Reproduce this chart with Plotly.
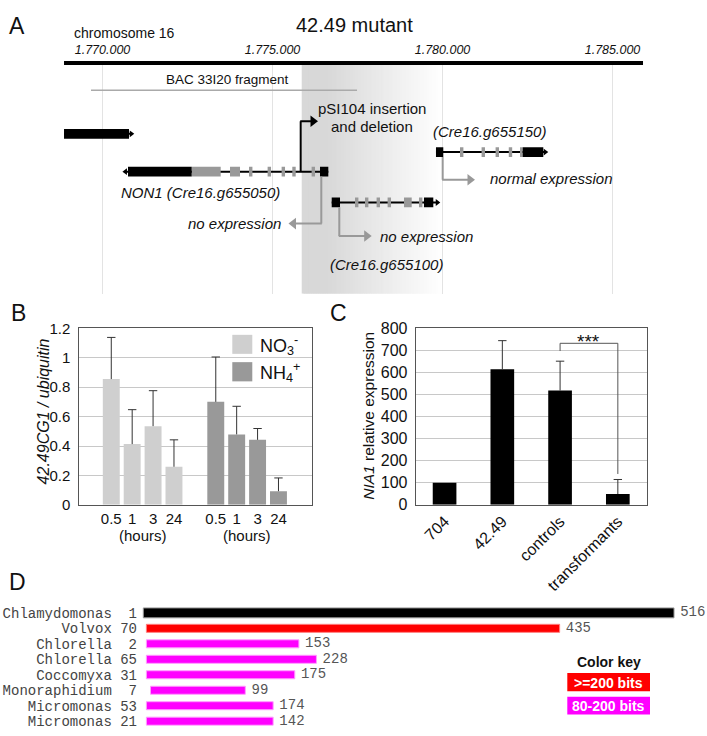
import plotly.graph_objects as go

W, H = 707, 736
FONT = "Arial, Liberation Sans, Helvetica, sans-serif"
MONO = "Courier New, Liberation Mono, monospace"

# ------------------------------------------------------------------ data
# Panel A : genomic map of chromosome 16 (bp)
CHROM_TICKS = [1770000, 1775000, 1780000, 1785000]
CHROM_TICK_LABELS = ["1.770.000", "1.775.000", "1.780.000", "1.785.000"]
WINDOW = [1768868, 1785897]
BAC_FRAGMENT = [1769662, 1777485]
DELETION_REGION = [1775859, 1780014]
INSERTION_SITE = 1775829
INSERTION_ARROW_END = 1776338

GENE_LEFT_BLACK = [(1768868, 1770779)]
GENE_LEFT_TIP = 1770926

NON1_BLACK = [(1770750, 1772623), (1776397, 1776641)]
NON1_GRAY = [(1772623, 1773476), (1773750, 1774044)]
NON1_THIN = [1774359, 1774906, 1775318, 1775632, 1776200]
NON1_TIP = 1770594

G100_BLACK = [(1776741, 1776985), (1779455, 1779729)]
G100_GRAY = [(1778867, 1779094)]
G100_THIN = [1777476, 1777770, 1778111, 1778435, 1779358]
G100_TIP = 1779926

G150_BLACK = [(1779808, 1780023), (1782358, 1782964)]
G150_GRAY = [(1782279, 1782358)]
G150_THIN = [1780564, 1781199, 1781611, 1781999]
G150_TIP = 1783102

# expression arrows: (stem position, arrow head position)
EXPR_NON1 = (1776435, 1775470)
EXPR_G100 = (1776964, 1777917)
EXPR_G150 = (1780005, 1780955)

# Panel B
HOURS = ["0.5", "1", "3", "24"]
NO3_MEAN = [0.855, 0.413, 0.535, 0.259]
NO3_ERR = [0.283, 0.234, 0.241, 0.183]
NH4_MEAN = [0.700, 0.479, 0.442, 0.093]
NH4_ERR = [0.305, 0.191, 0.077, 0.090]

# Panel C
STRAINS = ["704", "42.49", "controls", "transformants"]
NIA1_MEAN = [100, 614, 518, 49]
NIA1_ERR = [0, 130, 133, 66]

# Panel D
SPECIES = ["Chlamydomonas", "Volvox", "Chlorella", "Chlorella",
           "Coccomyxa", "Monoraphidium", "Micromonas", "Micromonas"]
SUBJ_START = [1, 70, 2, 65, 31, 7, 53, 21]
SUBJ_END = [516, 435, 153, 228, 175, 99, 174, 142]
QUERY_START = [1, 4, 4, 4, 4, 8, 4, 4]
QUERY_END = [516, 405, 152, 169, 148, 100, 127, 127]
SCORE_CLASS = ["query", ">=200", "80-200", "80-200", "80-200", "80-200", "80-200", "80-200"]
CLASS_COLOR = {"query": "#000000", ">=200": "#ff0000", "80-200": "#ff00ff"}


# ------------------------------------------------------------------ helpers
def px(x):
    return x / W


def py(y):
    return 1 - y / H


fig = go.Figure()
shapes = []
ann = []


def text(x, y, s, size=15, xanchor="center", color="#111", angle=0, family=FONT):
    ann.append(dict(x=px(x), y=py(y), xref="paper", yref="paper", text=s,
                    showarrow=False, xanchor=xanchor, yanchor="middle",
                    textangle=angle, font=dict(size=size, color=color, family=family)))


# ------------------------------------------------------------------ panel A
ROW = dict(ruler=55.3, bac=83.3, left=128.0, non1=166.7, g150=146.7, g100=198.3)
BOX_H = 10
THIN_W = 100
TRACK_TOP, TRACK_BOTTOM = 53.3, 292
BP_PER_PX = 29.41

# deletion shading with gradient (left-to-right strips, each overlapping the next)
n = 80
s0, s1 = DELETION_REGION
step = (s1 - s0) / n
for i in range(n):
    a = s0 + step * i
    t = (i + 0.5) / n
    k = 1.0 if t < 0.18 else max(0.0, 1 - (t - 0.18) / 0.82)
    g = round(255 - (255 - 216) * k)
    shapes.append(dict(type="rect", xref="x", yref="y", x0=a, x1=a + 2 * step, y0=57.3,
                       y1=TRACK_BOTTOM, fillcolor=f"rgb({g},{g},{g})", line=dict(width=0),
                       layer="below"))

# ruler and BAC fragment
shapes.append(dict(type="line", xref="x", yref="y", x0=WINDOW[0], x1=WINDOW[1],
                   y0=ROW["ruler"], y1=ROW["ruler"], line=dict(color="#000", width=4)))
shapes.append(dict(type="line", xref="x", yref="y", x0=BAC_FRAGMENT[0], x1=BAC_FRAGMENT[1],
                   y0=ROW["bac"], y1=ROW["bac"], line=dict(color="#aaaaaa", width=1.5)))

tip_x, tip_y, tip_sym = [], [], []
head_x, head_y, head_sym, head_col = [], [], [], []


def add_gene(row, black, gray, thin, tip, forward):
    lo = min(b[0] for b in black)
    hi = max(b[1] for b in black)
    if forward:
        lo2, hi2 = lo, tip - 60
    else:
        lo2, hi2 = tip + 60, hi
    shapes.append(dict(type="line", xref="x", yref="y", x0=lo2, x1=hi2, y0=row, y1=row,
                       line=dict(color="#000", width=2)))
    for a, b in gray:
        shapes.append(dict(type="rect", xref="x", yref="y", x0=a, x1=b, y0=row - BOX_H / 2,
                           y1=row + BOX_H / 2, fillcolor="#999999", line=dict(width=0)))
    for c in thin:
        shapes.append(dict(type="rect", xref="x", yref="y", x0=c - THIN_W / 2, x1=c + THIN_W / 2,
                           y0=row - BOX_H / 2, y1=row + BOX_H / 2, fillcolor="#999999",
                           line=dict(width=0)))
    for a, b in black:
        shapes.append(dict(type="rect", xref="x", yref="y", x0=a, x1=b, y0=row - BOX_H / 2,
                           y1=row + BOX_H / 2, fillcolor="#000", line=dict(width=0)))
    tip_x.append(tip - 80 if forward else tip + 80)
    tip_y.append(row)
    tip_sym.append("triangle-right" if forward else "triangle-left")


add_gene(ROW["left"], GENE_LEFT_BLACK, [], [], GENE_LEFT_TIP, True)
add_gene(ROW["non1"], NON1_BLACK, NON1_GRAY, NON1_THIN, NON1_TIP, False)
add_gene(ROW["g100"], G100_BLACK, G100_GRAY, G100_THIN, G100_TIP, True)
add_gene(ROW["g150"], G150_BLACK, G150_GRAY, G150_THIN, G150_TIP, True)

fig.add_trace(go.Scatter(x=tip_x, y=tip_y, mode="markers", xaxis="x", yaxis="y",
                         marker=dict(symbol=tip_sym, size=6, color="#000"),
                         hoverinfo="skip", showlegend=False))


def bent_arrow(stem, head, y_from, y_to, color):
    half = 5 * BP_PER_PX
    right = head > stem
    shapes.append(dict(type="line", xref="x", yref="y", x0=stem, x1=stem, y0=y_from, y1=y_to,
                       line=dict(color=color, width=2)))
    shapes.append(dict(type="line", xref="x", yref="y",
                       x0=stem - (1 if right else -1) * 0.5 * BP_PER_PX,
                       x1=head - (half if right else -half), y0=y_to, y1=y_to,
                       line=dict(color=color, width=2)))
    head_x.append(head - half if right else head + half)
    head_y.append(y_to)
    head_sym.append("triangle-right" if right else "triangle-left")
    head_col.append(color)


bent_arrow(INSERTION_SITE, INSERTION_ARROW_END, ROW["non1"], 115, "#000")
bent_arrow(EXPR_NON1[0], EXPR_NON1[1], ROW["non1"] + BOX_H / 2, 220, "#999999")
bent_arrow(EXPR_G100[0], EXPR_G100[1], ROW["g100"] + BOX_H / 2, 232.7, "#999999")
bent_arrow(EXPR_G150[0], EXPR_G150[1], ROW["g150"] + BOX_H / 2, 175, "#999999")

fig.add_trace(go.Scatter(x=head_x, y=head_y, mode="markers", xaxis="x", yaxis="y",
                         marker=dict(symbol=head_sym, size=10, color=head_col, line=dict(width=0)),
                         hoverinfo="skip", showlegend=False))

text(17, 17, "A", size=23)
text(354, 16, "42.49 mutant", size=20)
text(72, 25, "chromosome 16", size=14, xanchor="left")
text(227.5, 72, "BAC 33I20 fragment", size=13.5)
text(371.7, 101.7, "pSI104 insertion", size=15)
text(371.7, 120, "and deletion", size=15)
text(489, 126, "<i>(Cre16.g655150)</i>", size=15)
text(200.5, 187.7, "<i>NON1 (Cre16.g655050)</i>", size=15)
text(283, 220, "<i>no expression</i>", size=15, xanchor="right")
text(378, 232.7, "<i>no expression</i>", size=15, xanchor="left")
text(488, 173.3, "<i>normal expression</i>", size=15, xanchor="left")
text(386, 261.7, "<i>(Cre16.g655100)</i>", size=15)

# ------------------------------------------------------------------ panel B
POS_NO3 = [0, 1, 2, 3]
POS_NH4 = [5, 6, 7, 8]
for pos, mean, err, col in [(POS_NO3, NO3_MEAN, NO3_ERR, "#cfcfcf"),
                            (POS_NH4, NH4_MEAN, NH4_ERR, "#999999")]:
    fig.add_trace(go.Bar(x=pos, y=mean, width=0.81, xaxis="x2", yaxis="y2",
                         marker=dict(color=col, line=dict(width=0)),
                         error_y=dict(type="data", array=err, arrayminus=[0] * len(err),
                                      symmetric=False, width=0, thickness=1, color="#333"),
                         showlegend=False, hoverinfo="skip"))
fig.add_trace(go.Scatter(x=POS_NO3 + POS_NH4,
                         y=[m + e for m, e in zip(NO3_MEAN + NH4_MEAN, NO3_ERR + NH4_ERR)],
                         mode="markers", xaxis="x2", yaxis="y2",
                         marker=dict(symbol="line-ew", size=6, line=dict(width=1, color="#333")),
                         showlegend=False, hoverinfo="skip"))

text(18, 312, "B", size=23)
text(43.5, 413, "<i>42.49CG1 / ubiquitin</i>", size=16, angle=-90)
text(142.6, 540, "(hours)", size=15)
text(247, 540, "(hours)", size=15)
shapes.append(dict(type="rect", xref="paper", yref="paper", x0=px(232.3), x1=px(252.3),
                   y0=py(353.5), y1=py(334), fillcolor="#cfcfcf", line=dict(width=0)))
shapes.append(dict(type="rect", xref="paper", yref="paper", x0=px(232.3), x1=px(252.3),
                   y0=py(381.7), y1=py(362), fillcolor="#999999", line=dict(width=0)))
text(258, 345, "NO<sub>3</sub><sup>-</sup>", size=18, xanchor="left")
text(258, 373, "NH<sub>4</sub><sup>+</sup>", size=18, xanchor="left")

# ------------------------------------------------------------------ panel C
fig.add_trace(go.Bar(x=STRAINS, y=NIA1_MEAN, width=0.41, xaxis="x3", yaxis="y3",
                     marker=dict(color="#000", line=dict(width=0)),
                     error_y=dict(type="data", array=NIA1_ERR, arrayminus=[0] * len(NIA1_ERR),
                                  symmetric=False, width=0, thickness=1, color="#333"),
                     showlegend=False, hoverinfo="skip"))
fig.add_trace(go.Scatter(x=STRAINS,
                         y=[(m + e) if e > 0 else None for m, e in zip(NIA1_MEAN, NIA1_ERR)],
                         mode="markers", xaxis="x3", yaxis="y3",
                         marker=dict(symbol="line-ew", size=6, line=dict(width=1, color="#333")),
                         showlegend=False, hoverinfo="skip"))
BRACKET_Y = [697, 732, 732, 140]
fig.add_trace(go.Scatter(x=[STRAINS[2], STRAINS[2], STRAINS[3], STRAINS[3]], y=BRACKET_Y,
                         mode="lines", xaxis="x3", yaxis="y3",
                         line=dict(color="#555", width=1), showlegend=False, hoverinfo="skip"))
ann.append(dict(x=2.5, y=742, xref="x3", yref="y3", text="***", showarrow=False,
                yanchor="middle", font=dict(size=19, color="#111", family=FONT)))
text(338, 312, "C", size=23)
text(368.3, 416.7, "<i>NIA1</i> relative expression", size=15.5, angle=-90)

# ------------------------------------------------------------------ panel D
rows = list(range(len(SPECIES)))
LABEL_GAP = 6  # query units between bar end and its end-coordinate label
fig.add_trace(go.Bar(
    y=rows, x=[e - s for s, e in zip(QUERY_START, QUERY_END)], base=QUERY_START,
    orientation="h", xaxis="x4", yaxis="y4",
    width=[0.64] + [0.52] * (len(SPECIES) - 1),
    marker=dict(color=[CLASS_COLOR[c] for c in SCORE_CLASS],
                line=dict(color=["#999999"] + ["#ff9dff" if c == "80-200" else "#ff8080"
                                              for c in SCORE_CLASS[1:]], width=1)),
    showlegend=False, hoverinfo="skip"))
fig.add_trace(go.Scatter(y=rows, x=[e + LABEL_GAP for e in QUERY_END],
                         text=[str(v) for v in SUBJ_END], mode="text",
                         textposition="middle right", xaxis="x4", yaxis="y4",
                         textfont=dict(family=MONO, size=14, color="#555"),
                         showlegend=False, hoverinfo="skip"))
row_labels = [(f"{nm} {st:>2}").replace(" ", "\u00a0") for nm, st in zip(SPECIES, SUBJ_START)]

text(17, 587, "D", size=23)
text(609.3, 669.3, "<b>Color key</b>", size=14)
shapes.append(dict(type="rect", xref="paper", yref="paper", x0=px(567.3), x1=px(650),
                   y0=py(699.3), y1=py(680.7), fillcolor="#ff0000", line=dict(width=0)))
shapes.append(dict(type="rect", xref="paper", yref="paper", x0=px(567.3), x1=px(650),
                   y0=py(723.3), y1=py(705), fillcolor="#ff00ff", line=dict(width=0)))
text(608.6, 690.5, "<b>&gt;=200 bits</b>", size=14, color="#fff")
text(608.6, 714.5, "<b>80-200 bits</b>", size=14, color="#fff")

# ------------------------------------------------------------------ layout
D_TOP, D_BOT = 609.5, 734.8
fig.update_layout(
    width=W, height=H, margin=dict(l=0, r=0, t=0, b=0),
    paper_bgcolor="white", plot_bgcolor="rgba(0,0,0,0)",
    barmode="overlay", showlegend=False,
    font=dict(family=FONT, color="#111"),
    xaxis=dict(domain=[0, 1], range=[1766985, 1787779], side="top",
               tickvals=CHROM_TICKS, ticktext=[f"<i>{t}</i>" for t in CHROM_TICK_LABELS],
               tickfont=dict(size=12.5, color="#111"), showgrid=True, gridcolor="#e3e3e3",
               zeroline=False, showline=False, ticks="", anchor="y", ticklabelstandoff=3),
    yaxis=dict(domain=[py(TRACK_BOTTOM), py(TRACK_TOP)], range=[TRACK_BOTTOM, TRACK_TOP],
               visible=False, anchor="x"),
    xaxis2=dict(domain=[px(79.3), px(311.7)], range=[-1.53, 9.59],
                tickvals=POS_NO3 + POS_NH4, ticktext=HOURS + HOURS, ticks="",
                showline=True, mirror=True, linecolor="#555", linewidth=1, showgrid=False,
                zeroline=False, anchor="y2", tickfont=dict(size=15, color="#111")),
    yaxis2=dict(domain=[py(508.3), py(327.3)], range=[0, 1.2], dtick=0.2, tick0=0,
                showgrid=True, gridcolor="#c8c8c8", showline=True, mirror=True,
                linecolor="#555", zeroline=False, ticks="", anchor="x2",
                tickfont=dict(size=15, color="#111"), ticklabelstandoff=5),
    xaxis3=dict(domain=[px(415.7), px(646.7)], type="category", range=[-0.5, 3.5],
                tickangle=-45, ticks="", showline=True, mirror=True, linecolor="#555",
                linewidth=1, showgrid=False, zeroline=False, anchor="y3",
                tickfont=dict(size=16, color="#111")),
    yaxis3=dict(domain=[py(508.3), py(327.3)], range=[0, 800], dtick=100, tick0=0,
                showgrid=True, gridcolor="#c8c8c8", showline=True, mirror=True,
                linecolor="#555", zeroline=False, ticks="", anchor="x3",
                tickfont=dict(size=16, color="#111"), ticklabelstandoff=4),
    xaxis4=dict(domain=[px(140), 1], range=[-2.2, 548.0], visible=False, anchor="y4"),
    yaxis4=dict(domain=[py(D_BOT), py(D_TOP)], range=[7.3, -0.6], tickvals=rows,
                ticktext=row_labels, ticks="", showgrid=False, zeroline=False,
                showline=False, anchor="x4",
                tickfont=dict(family=MONO, size=14, color="#444"), ticklabelstandoff=2),
    shapes=shapes, annotations=ann,
)

fig.write_html("out.html", config={"displayModeBar": False},
               post_script="document.body.style.margin='0px';")
